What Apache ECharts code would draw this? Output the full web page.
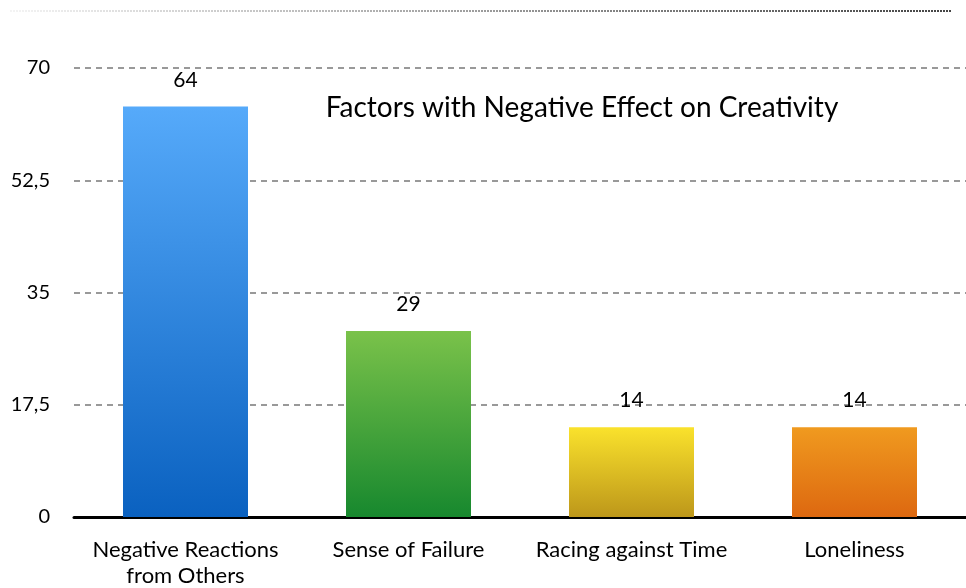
<!DOCTYPE html>
<html>
<head>
<meta charset="utf-8">
<script src="https://cdn.jsdelivr.net/npm/echarts@6/dist/echarts.min.js"></script>
<style>
  html, body { margin: 0; padding: 0; background: #fff; }
  #chart { width: 966px; height: 588px; }
</style>
</head>
<body>
<div id="chart"></div>
<script>
const categories = ['Negative Reactions\nfrom Others', 'Sense of Failure', 'Racing against Time', 'Loneliness'];
const values = [64, 29, 14, 14];
const tickValues = [0, 17.5, 35, 52.5, 70];
const barGradients = [
  ['#56aafa', '#0a61c0'],
  ['#7ac24a', '#17882e'],
  ['#fae22c', '#bd971a'],
  ['#f09a1f', '#dd6810']
];

const font = 'Lato, "Noto Sans", sans-serif';

const chart = echarts.init(document.getElementById('chart'), null, { renderer: 'canvas' });

chart.setOption({
  animation: false,
  backgroundColor: '#ffffff',
  title: {
    text: 'Factors with Negative Effect on Creativity',
    left: 577,
    top: 89,
    textAlign: 'center',
    textStyle: { fontFamily: font, fontSize: 28, fontWeight: 'normal', color: '#000' }
  },
  graphic: [{
    type: 'line',
    shape: { x1: 10, y1: 11, x2: 952, y2: 11 },
    style: {
      lineWidth: 2,
      lineDash: [2, 1],
      stroke: {
        type: 'linear', global: true, x: 10, y: 0, x2: 952, y2: 0,
        colorStops: [{ offset: 0, color: '#f4f4f4' }, { offset: 1, color: '#444444' }]
      }
    }
  }],
  grid: { left: 74, right: 0, top: 68, bottom: 71, containLabel: false, outerBoundsMode: 'none' },
  xAxis: {
    type: 'category',
    data: categories,
    axisLine: { lineStyle: { color: '#000', width: 3 } },
    axisTick: { show: false },
    axisLabel: {
      fontFamily: font, fontSize: 22, color: '#000', margin: 20, lineHeight: 26, interval: 0
    }
  },
  yAxis: {
    type: 'value',
    min: 0,
    max: 70,
    interval: 17.5,
    axisLine: { show: false },
    axisTick: { show: false },
    splitLine: { lineStyle: { color: '#999', width: 2, type: [6, 5] } },
    axisLabel: {
      fontFamily: font, fontSize: 20, color: '#000', margin: 24,
      formatter: v => tickValues.includes(v) ? String(v).replace('.', ',') : ''
    }
  },
  series: [{
    type: 'bar',
    barWidth: 125,
    data: values.map((v, i) => ({
      value: v,
      itemStyle: {
        color: {
          type: 'linear', x: 0, y: 0, x2: 0, y2: 1,
          colorStops: [
            { offset: 0, color: barGradients[i][0] },
            { offset: 1, color: barGradients[i][1] }
          ]
        }
      }
    })),
    label: {
      show: true,
      position: 'top',
      distance: 16,
      fontFamily: font,
      fontSize: 21,
      color: '#000'
    }
  }]
});
</script>
</body>
</html>
